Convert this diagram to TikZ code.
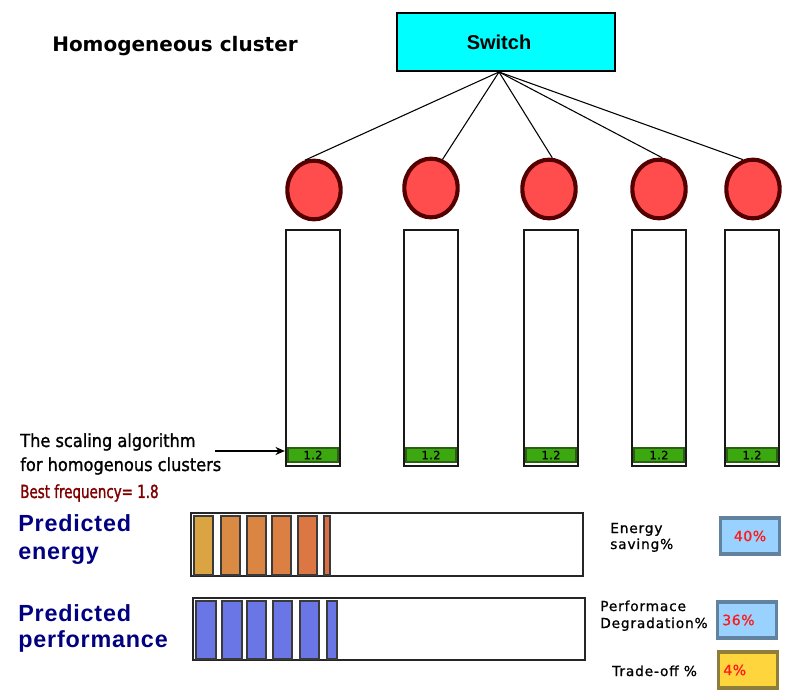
\documentclass[tikz,border=0pt]{standalone}
\usepackage{fontspec}
\setmainfont{DejaVu Sans}
\newfontfamily\arialfont{Liberation Sans}
\newfontfamily\predfont{Liberation Sans}[LetterSpace=3.5]
\newfontfamily\condfont{DejaVu Sans Condensed}[FakeBold=1.2]
\newfontfamily\narrowfont{DejaVu Sans Condensed}[FakeStretch=0.83,FakeBold=1.5]
\newfontfamily\spacedfont{DejaVu Sans}[LetterSpace=6,FakeBold=1]
\newfontfamily\pctfont{DejaVu Sans}[LetterSpace=4,FakeBold=1]
\usetikzlibrary{arrows.meta,shapes.geometric}

\definecolor{switchcyan}{HTML}{00FFFF}
\definecolor{nodered}{HTML}{FF4D4D}
\definecolor{nodedark}{HTML}{550000}
\definecolor{freqgreen}{HTML}{3BA80F}
\definecolor{freqline}{HTML}{2C5E14}
\definecolor{navytext}{HTML}{000080}
\definecolor{bestred}{HTML}{800000}
\definecolor{pctred}{HTML}{FF1A1A}
\definecolor{boxblue}{HTML}{99D1FF}
\definecolor{boxblueline}{HTML}{62839F}
\definecolor{boxyellow}{HTML}{FFD53D}
\definecolor{boxyellowline}{HTML}{8F7D3A}
\definecolor{barline}{HTML}{3A3A3A}
\definecolor{perfblue}{HTML}{6A75E6}
\definecolor{ebarA}{HTML}{D9A441}
\definecolor{ebarB}{HTML}{DA8A43}
\definecolor{ebarC}{HTML}{DA8642}
\definecolor{ebarD}{HTML}{DB7F42}
\definecolor{ebarE}{HTML}{DC7643}
\definecolor{ebarF}{HTML}{DD6E44}

\tikzset{
  switchbox/.style={draw, line width=0.9pt, fill=switchcyan, minimum width=163.5pt, minimum height=43.5pt, inner sep=0pt, font=\arialfont\bfseries\fontsize{15}{18}\selectfont},
  pcnode/.style={ellipse, draw=nodedark, line width=3.1pt, fill=nodered, minimum width=40pt, minimum height=44pt, inner sep=0pt},
  column/.style={draw=black!90, line width=1.7pt, fill=white, minimum width=40.5pt, minimum height=177pt, inner sep=0pt},
  freqbox/.style={draw=freqline, line width=0.8pt, fill=freqgreen, minimum width=37.5pt, minimum height=10.5pt, inner sep=0pt, font=\pctfont\fontsize{8.5}{9}\selectfont},
  resultbox/.style={line width=2.4pt, minimum width=44pt, minimum height=27pt, inner sep=0pt, text width=37pt, font=\pctfont\fontsize{10.5}{12}\selectfont, text=pctred},
  barframe/.style={draw=black!85, line width=0.9pt},
  bar/.style={draw=barline, line width=1pt},
  sidelabel/.style={anchor=base west, inner sep=0pt, font=\spacedfont\fontsize{10.3}{13}\selectfont},
  predlabel/.style={anchor=base west, inner sep=0pt, text=navytext, font=\predfont\bfseries\fontsize{17.5}{21}\selectfont},
}

\begin{document}
\begin{tikzpicture}[x=0.75pt,y=0.75pt,yscale=-1,xscale=1]
        \useasboundingbox (0,0) rectangle (800,698);

        % Title
        \node [anchor=base west, inner sep=0pt, font=\bfseries\fontsize{15}{18}\selectfont] (title) at (52,52) {Homogeneous cluster};

        % Switch
        \node [switchbox] (switch) at (506,42) {\hspace*{-10.5pt}Switch};
        \coordinate (swpt) at (499,72);

        % Nodes of the cluster
        \node [pcnode] (c1) at (314,190) {};
        \node [pcnode] (c2) at (431,188) {};
        \node [pcnode] (c3) at (549,189) {};
        \node [pcnode] (c4) at (659,189) {};
        \node [pcnode] (c5) at (753,189) {};

        %Straight Lines
        \draw [line width=0.8pt] (swpt) -- (c1.107) ;
        \draw [line width=0.8pt] (swpt) -- (c2.68) ;
        \draw [line width=0.8pt] (swpt) -- (c3.84) ;
        \draw [line width=0.8pt] (swpt) -- (c4.84) ;
        \draw [line width=0.8pt] (swpt) -- (c5.109) ;

        % Columns with the frequency boxes
        \foreach \i/\x in {1/313,2/431,3/551,4/659,5/752} {
          \node [column] (col\i) at (\x,348) {};
          \node [freqbox] (f\i) at (\x,455) {1.2};
        }

        % Text Node
        \node [anchor=base west, inner sep=0pt, font=\condfont\fontsize{13.5}{18}\selectfont] (alg1) at (20,447) {The scaling algorithm};
        % Text Node
        \node [anchor=base west, inner sep=0pt, font=\condfont\fontsize{13.5}{18}\selectfont] (alg2) at (20,471) {for homogenous clusters};
        % Text Node
        \node [anchor=base west, inner sep=0pt, text=bestred, font=\narrowfont\fontsize{13.5}{18}\selectfont] (best) at (20,498) {Best frequency= 1.8};
        \coordinate (algtail) at (215,451);
        \draw [-{Stealth[length=7pt,width=6pt]}, line width=1.1pt] (algtail) -- (col1.west |- algtail) ;

        % Predicted energy
        \node [predlabel] (pe1) at (18,532) {Predicted};
        \node [predlabel] (pe2) at (18,560) {energy};
        \draw [barframe] (191,513) rectangle (583,576) ;
        \foreach \a/\b/\c in {194/213/ebarA,221/240/ebarB,247/266/ebarC,272/291/ebarD,298/317/ebarE,324/330/ebarF}
          \draw [bar, fill=\c] (\a,516) rectangle (\b,575) ;

        % Predicted performance
        \node [predlabel] (pp1) at (18,621) {Predicted};
        \node [predlabel] (pp2) at (18,647) {performance};
        \draw [barframe] (193,598) rectangle (585,660) ;
        \foreach \a/\b in {196/216,222/242,247/266,273/292,300/319,327/337}
          \draw [bar, fill=perfblue] (\a,601) rectangle (\b,659) ;

        % Results
        \node [sidelabel] (es1) at (610,533) {Energy};
        \node [sidelabel] (es2) at (610,549) {saving\%};
        \node [resultbox, draw=boxblueline, fill=boxblue, align=center] (esave) at (750,536) {40\%};

        \node [sidelabel] (pd1) at (600,611) {Performace};
        \node [sidelabel] (pd2) at (600,628) {Degradation\%};
        \node [resultbox, draw=boxblueline, fill=boxblue, align=left] (pdeg) at (747,620) {36\%};

        \node [sidelabel] (to1) at (612,676) {Trade-off \%};
        \node [resultbox, draw=boxyellowline, fill=boxyellow, align=left] (toff) at (748,670) {4\%};

\end{tikzpicture}
\end{document}
